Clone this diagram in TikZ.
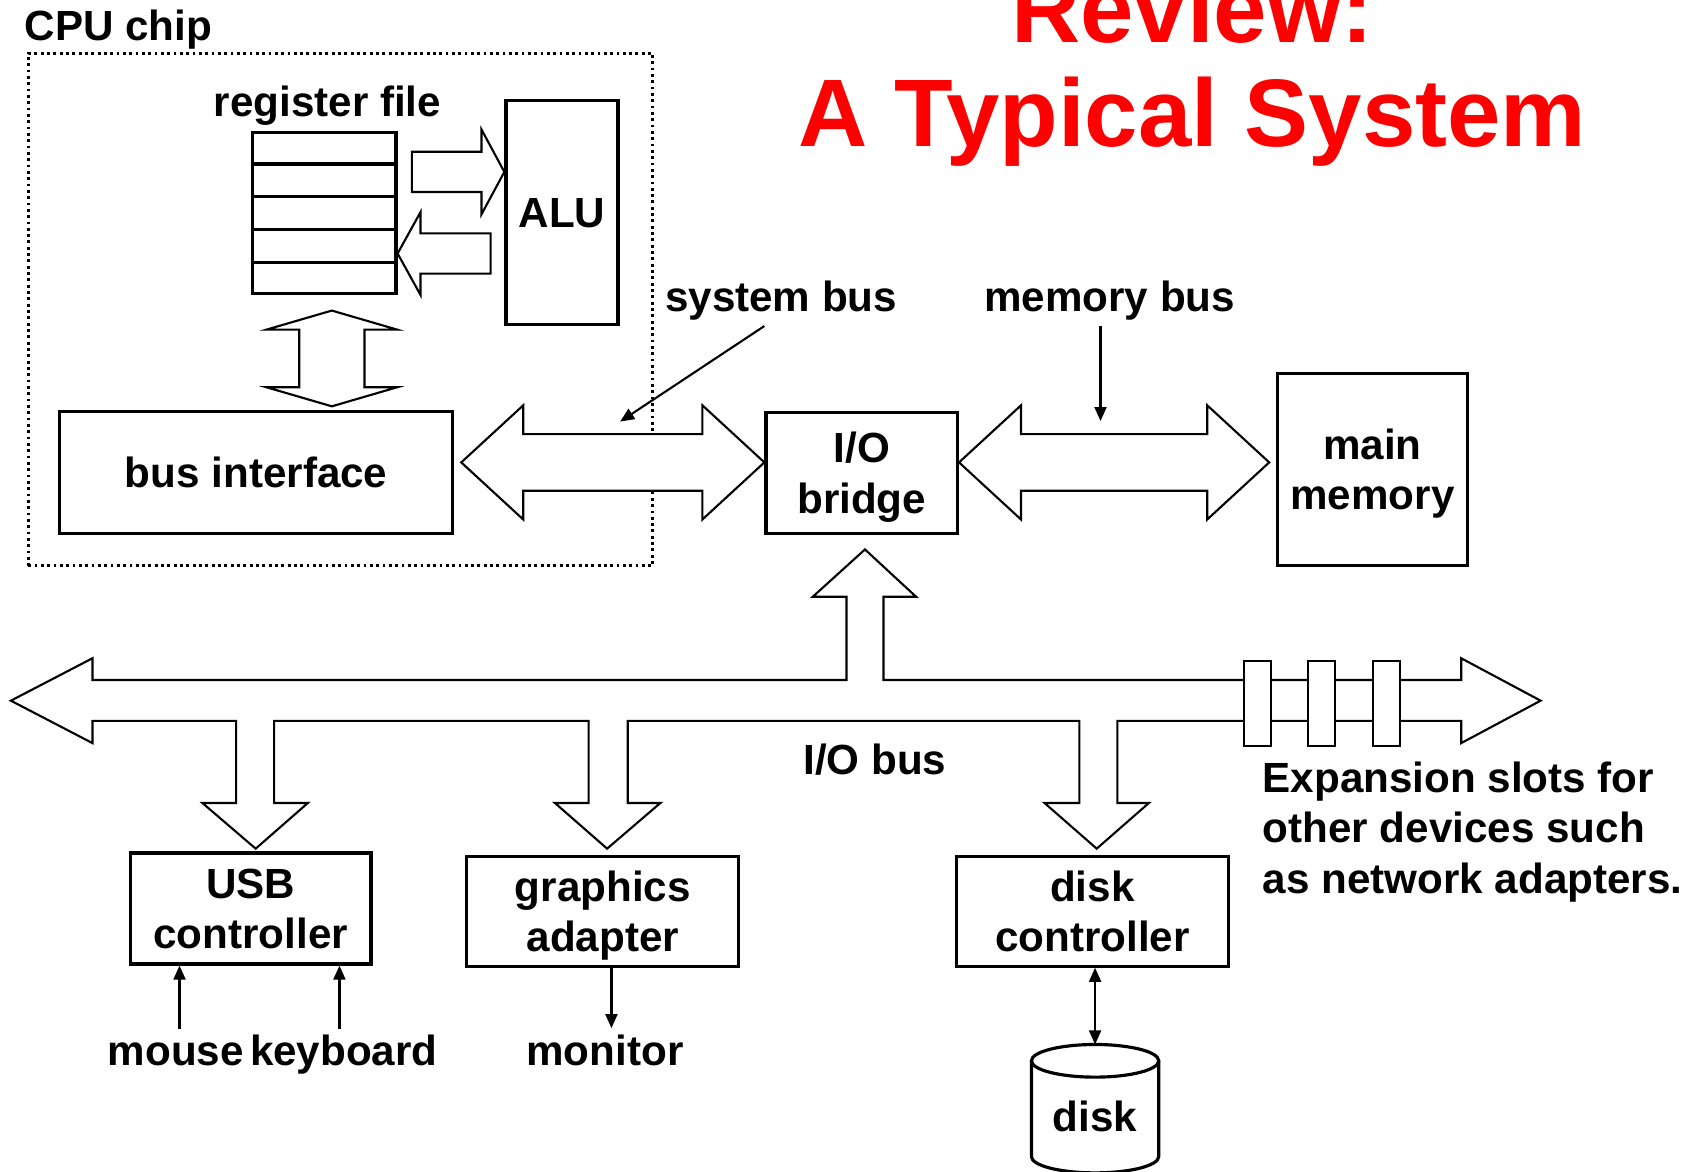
\documentclass[tikz,border=0pt]{standalone}
\usepackage{fontspec}
\setmainfont{Liberation Sans}
\usepackage{tikz}
\usetikzlibrary{arrows.meta,positioning,fit,calc}
\definecolor{headred}{HTML}{FF0000}
\newdimen\pxu
\pxu=0.1088mm
% hollow two-way bus arrow between two tips on one level
\newcommand{\busarrow}[2]{%
  \draw[blk] (#1) -- ++(57,-52.5) -- ++(0,26.5) -- ($(#2)+(-57,-26)$) -- ++(0,-26.5) -- (#2)
    -- ++(-57,52.5) -- ++(0,-26.5) -- ($(#1)+(57,26)$) -- ++(0,26.5) -- cycle;}

\begin{document}
\begin{tikzpicture}[
  x=\pxu,y=-\pxu,
  font=\bfseries\fontsize{12}{14.3}\selectfont,
  box/.style={draw,line width=0.9pt,align=center,inner sep=0pt,text depth=0pt},
  lbl/.style={inner sep=0pt,anchor=base},
  blk/.style={draw,line width=0.6pt,fill=white},
  ptr/.style={-{Triangle[length=4pt,width=3.4pt]},line width=0.6pt},
  slot/.style={draw,line width=0.6pt,fill=white,minimum width=25*\pxu,minimum height=78*\pxu,inner sep=0pt}]
\useasboundingbox (0,0) rectangle (1568,1077);
\node[lbl,font=\bfseries\fontsize{27.3}{29.6}\selectfont,text=headred,align=center] (title) at (1096,134.5) {Review:\\A Typical System};
% CPU chip
\node[lbl,anchor=base west] (cpulbl) at (22,37) {CPU chip};
\node[draw,densely dotted,line width=0.8pt,inner sep=0pt,fit={(26,49) (600,520)}] (chip) {};
\node[box,minimum width=132*\pxu,minimum height=148*\pxu] (reg) at (298,196) {};
\foreach \i in {1,...,4}
  \draw[line width=0.9pt] ($(reg.north west)!\i/5!(reg.south west)$) -- ($(reg.north east)!\i/5!(reg.south east)$);
\node[lbl] (reglbl) at (301,107) {register file};
\node[box,minimum width=103*\pxu,minimum height=206*\pxu] (alu) at (516.5,195.5) {ALU};
\node[box,minimum width=361*\pxu,minimum height=112*\pxu] (busif) at (235.5,434) {bus interface};
\draw[blk] ($(alu.west)+(0,-37.5)$) -- ++(-21,-39) -- ++(0,20.5) -- ++(-64,0) -- ++(0,37) -- ++(64,0) -- ++(0,20.5) -- cycle;
\draw[blk] ($(reg.east)+(0,37)$) -- ++(21,-38) -- ++(0,19.5) -- ++(64.5,0) -- ++(0,37) -- ++(-64.5,0) -- ++(0,19.5) -- cycle;
\draw[blk] ($(reg.south)+(7,14)$) -- ++(60,17.5) -- ++(-30,0) -- ++(0,53) -- ++(30,0) -- ++(-60,17.5)
  -- ++(-60,-17.5) -- ++(30,0) -- ++(0,-53) -- ++(-30,0) -- cycle;
% bridge and memory
\node[box,minimum width=176*\pxu,minimum height=111*\pxu] (bridge) at (792,434.5) {I/O\\bridge};
\node[box,minimum width=175*\pxu,minimum height=177*\pxu] (mem) at (1261.5,431.5) {main\\memory};
\coordinate (sbL) at ($(busif.east)+(6.5,-9)$);
\coordinate (sbR) at (bridge.west |- sbL);
\coordinate (mbL) at ($(bridge.east)+(0,-9.5)$);
\coordinate (mbR) at ($(mem.west |- mbL)+(-6,0)$);
\busarrow{sbL}{sbR}
\busarrow{mbL}{mbR}
\node[lbl] (syslbl) at (718,286.5) {system bus};
\node[lbl] (memlbl) at (1020,286.5) {memory bus};
\coordinate (sysptr) at (570,387.5);
\coordinate (memptr) at (1011.5,387);
\draw[ptr] ($(syslbl.south)+(-15.5,4.5)$) -- (sysptr);
\draw[ptr] (memptr |- memlbl.south) ++(0,4.5) -- (memptr);
% I/O bus
\draw[blk] (10,644) -- (85,605) -- (85,625) -- (778,625) -- (778,548.5) -- (747,548.5) -- (795,505) -- (842,548.5)
  -- (812,548.5) -- (812,625) -- (1343,625) -- (1343,605) -- (1416,644) -- (1343,683) -- (1343,662.5)
  -- (1027,662.5) -- (1027,738) -- (1056,738) -- (1008,780) -- (960,738) -- (992,738) -- (992,662.5)
  -- (577,662.5) -- (577,738) -- (607,738) -- (558,780) -- (510,738) -- (541,738) -- (541,662.5)
  -- (252,662.5) -- (252,738) -- (283,738) -- (235,780) -- (186,738) -- (217,738) -- (217,662.5)
  -- (85,662.5) -- (85,683) -- cycle;
\foreach \x/\n in {1155.5/1,1214.5/2,1274.5/3}
  \node[slot] (slot\n) at (\x,646.5) {};
\node[lbl] (iolbl) at (804,712) {I/O bus};
\node[lbl,anchor=base west,align=left] (exp) at (1160,821) {Expansion slots for\\other devices such\\as network adapters.};
% devices
\node[box,minimum width=221*\pxu,minimum height=102*\pxu] (usb) at (230.5,835) {USB\\controller};
\node[box,minimum width=250*\pxu,minimum height=101*\pxu] (gfx) at (554,837.5) {graphics\\adapter};
\node[box,minimum width=250*\pxu,minimum height=101*\pxu] (diskc) at (1004,837.5) {disk\\controller};
\node[lbl] (mouse) at (161.5,979) {mouse};
\node[lbl] (kbd) at (316,979) {keyboard};
\node[lbl] (mon) at (556,979) {monitor};
\coordinate (m0) at ($(mouse.base)+(3.5,-33)$);
\coordinate (k0) at ($(kbd.base)+(-4,-33)$);
\coordinate (g0) at ($(mon.base)+(6,-34)$);
\coordinate (disktop) at (1006.5,960);
\draw[ptr] (m0) -- (m0 |- usb.south);
\draw[ptr] (k0) -- (k0 |- usb.south);
\draw[ptr] (gfx.south -| g0) -- (g0);
\draw[{Triangle[length=4pt,width=3.4pt]}-{Triangle[length=4pt,width=3.4pt]},line width=0.6pt] (diskc.south -| disktop) -- (disktop);
\draw[line width=0.9pt,fill=white] (948,975) -- (948,1063) arc[start angle=180,end angle=0,x radius=58.5,y radius=15] -- (1065,975);
\draw[line width=0.9pt] (1006.5,975) ellipse[x radius=58.5,y radius=15];
\node[lbl] (disk) at (1006.5,1040) {disk};
\end{tikzpicture}
\end{document}
